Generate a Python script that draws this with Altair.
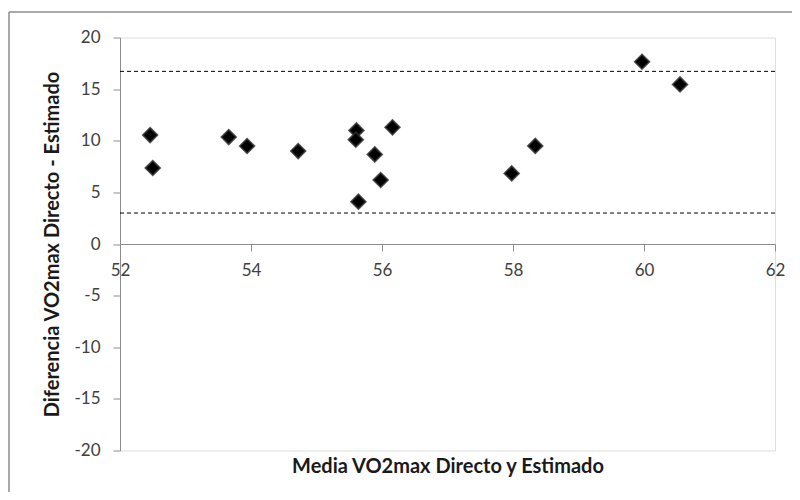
import altair as alt
import pandas as pd

# Bland-Altman data
media = [52.46, 52.50, 53.66, 53.94, 54.72, 55.61, 55.60, 55.89, 55.98, 55.64,
         56.16, 57.98, 58.34, 59.97, 60.55]
diferencia = [10.55, 7.36, 10.36, 9.49, 9.0, 11.0, 10.1, 8.68, 6.2, 4.1,
              11.3, 6.84, 9.5, 17.65, 15.46]
limites = [16.72, 3.0]

x_ticks = [52, 54, 56, 58, 60, 62]
y_ticks = [-20, -15, -10, -5, 0, 5, 10, 15, 20]

df = pd.DataFrame({"media": media, "dif": diferencia})
df_lim = pd.DataFrame({"lim": limites})

W, H = 655, 413
FONT = "Lato"
y0_px = H * 20 / 40  # pixel offset from bottom to y=0

x_scale = alt.Scale(domain=[52, 62], nice=False, zero=False)
y_scale = alt.Scale(domain=[-20, 20], nice=False)

points = alt.Chart(df).mark_point(
    shape="diamond", filled=True, size=215, color="black",
    stroke="#2e2e2e", strokeWidth=1.8, strokeOpacity=0.8, opacity=1
).encode(
    x=alt.X("media:Q", scale=x_scale, axis=alt.Axis(
        title="Media VO2max Directo y Estimado",
        values=x_ticks, grid=False, offset=-y0_px,
        labelFlush=False, labelOverlap=False, labelExpr="datum.value + ''",
        domainColor="#8c8c8c", tickColor="#8c8c8c", tickSize=7,
        labelFont=FONT, labelFontSize=17, labelColor="#404040", labelPadding=11,
        titleFont=FONT, titleFontSize=20, titleFontWeight="bold", titleColor="#1a1a1a",
        titleY=222, titleBaseline="middle",
    )),
    y=alt.Y("dif:Q", scale=y_scale, axis=alt.Axis(
        title="Diferencia VO2max Directo - Estimado",
        values=y_ticks, grid=False, labelOverlap=False,
        labelExpr="datum.value + ''",
        domainColor="#8c8c8c", tickColor="#8c8c8c", tickSize=7,
        labelFont=FONT, labelFontSize=17, labelColor="#404040", labelPadding=13,
        titleFont=FONT, titleFontSize=20, titleFontWeight="bold", titleColor="#1a1a1a",
        titleX=-68, titleY=H / 2, titleAngle=-90, titleBaseline="middle",
    )),
)

lines = alt.Chart(df_lim).mark_rule(
    color="black", strokeDash=[4, 3], strokeWidth=1
).encode(y=alt.Y("lim:Q", scale=y_scale))

# outer frame (top and left edges visible in the reference)
frame_top = alt.Chart(df_lim.head(1)).mark_rule(color="#8c8c8c", strokeWidth=1.5).encode(
    x=alt.value(-111), x2=alt.value(700), y=alt.value(-25.5)
)
frame_left = alt.Chart(df_lim.head(1)).mark_rule(color="#8c8c8c", strokeWidth=1.5).encode(
    x=alt.value(-111), y=alt.value(-25.5), y2=alt.value(470)
)

chart = alt.layer(frame_top, frame_left, lines, points).properties(
    width=W, height=H,
    autosize=alt.AutoSizeParams(type="none"),
    padding={"left": 112, "top": 29.5, "right": 17, "bottom": 41.5},
).configure_view(stroke=None).configure(background="white")

chart.save("out.html", embed_options={"renderer": "svg", "actions": False})
